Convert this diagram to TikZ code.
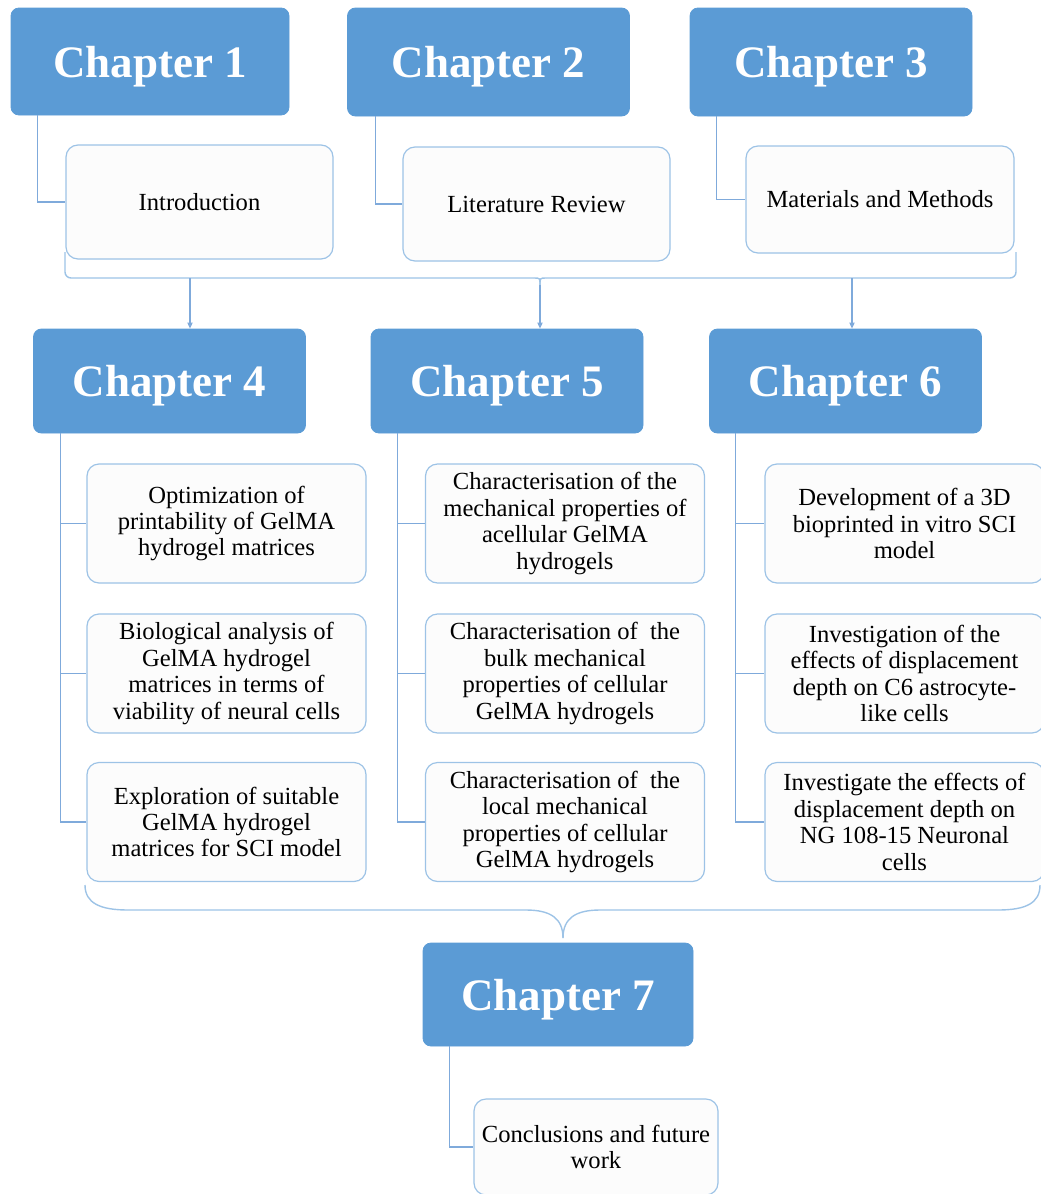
\documentclass[tikz,border=0pt]{standalone}
\usepackage{fontspec}
\setmainfont{Liberation Serif}
\usetikzlibrary{arrows.meta}
\definecolor{chapblue}{HTML}{5B9BD5}
\definecolor{rimblue}{HTML}{9DC3E6}
\definecolor{wireblue}{HTML}{7FAADB}
\definecolor{boxfill}{HTML}{FCFCFC}

\begin{document}
\begin{tikzpicture}[
  x=0.5pt,
  y=-0.5pt,
  chap/.style={rectangle, rounded corners=4pt, fill=chapblue, draw=chapblue,
    text=white, font=\fontsize{22.5}{26}\selectfont\bfseries,
    text depth=1.5pt, text height=17pt,
    minimum width=136pt, minimum height=52pt, inner sep=0pt},
  topic/.style={rectangle, rounded corners=6pt, draw=rimblue, fill=boxfill,
    line width=0.6pt, font=\fontsize{12.3}{13.2}\selectfont, align=center,
    minimum width=139.5pt, minimum height=59.5pt, inner sep=0pt},
  wire/.style={wireblue, line width=0.55pt},
  feed/.style={wireblue, line width=0.55pt, -{Triangle[length=3pt, width=2.6pt]}},
  brace/.style={rimblue, line width=0.7pt}
]
\useasboundingbox (0,0) rectangle (1040,1194);

% =====================================================================
% first row: chapters 1 to 3
% =====================================================================
\node[chap, minimum width=139pt, minimum height=53.5pt] (ch1) at (150,61.5) {Chapter 1};
\node[chap, minimum width=141pt, minimum height=54pt] (ch2) at (488.5,62) {Chapter 2};
\node[chap, minimum width=141pt, minimum height=54pt] (ch3) at (831,62) {Chapter 3};

\node[topic, minimum width=133.5pt, minimum height=57pt] (intro) at (199.5,202) {Introduction};
\node[topic, minimum width=133.5pt, minimum height=57pt] (review) at (536.5,204) {Literature Review};
\node[topic, minimum width=134pt, minimum height=53.5pt] (methods) at (880,199.5) {Materials and Methods};

\draw[wire] ([xshift=13.5pt]ch1.south west) |- (intro.west);
\draw[wire] ([xshift=14pt]ch2.south west) |- (review.west);
\draw[wire] ([xshift=13.5pt]ch3.south west) |- (methods.west);

% brace under the first row
\coordinate (tcusp) at (540,285);
\coordinate (tleft) at (190,278);
\coordinate (tright) at (852,278);
\draw[brace, rounded corners=3pt] (65,252) -- (65,278) -- (534,278);
\draw[brace] (534,278) .. controls (540,278) .. (tcusp);
\draw[brace] (tcusp) .. controls (540,278) .. (546,278);
\draw[brace, rounded corners=3pt] (546,278) -- (1016,278) -- (1016,252);

% =====================================================================
% second row: chapters 4 to 6
% =====================================================================
\node[chap] (ch4) at (169.5,381) {Chapter 4};
\node[chap] (ch5) at (507,381) {Chapter 5};
\node[chap] (ch6) at (845.5,381) {Chapter 6};

\draw[feed] (tleft) -- (tleft |- ch4.north);
\draw[feed] (tcusp) -- (tcusp |- ch5.north);
\draw[feed] (tright) -- (tright |- ch6.north);

\node[topic] (a1) at (226.5,523.5) {Optimization of\\printability of GelMA\\hydrogel matrices};
\node[topic] (a2) at (226.5,673.5) {Biological analysis of\\GelMA hydrogel\\matrices in terms of\\viability of neural cells};
\node[topic] (a3) at (226.5,822) {Exploration of suitable\\GelMA hydrogel\\matrices for SCI model};

\node[topic] (b1) at (565,523.5) {Characterisation of the\\mechanical properties of\\acellular GelMA\\hydrogels};
\node[topic] (b2) at (565,673.5) {Characterisation of~~the\\bulk mechanical\\properties of cellular\\GelMA hydrogels};
\node[topic] (b3) at (565,822) {Characterisation of~~the\\local mechanical\\properties of cellular\\GelMA hydrogels};

\node[topic] (c1) at (904.5,523.5) {Development of a 3D\\bioprinted in vitro SCI\\model};
\node[topic] (c2) at (904.5,673.5) {Investigation of the\\effects of displacement\\depth on C6 astrocyte-\\like cells};
\node[topic] (c3) at (904.5,822) {Investigate the effects of\\displacement depth on\\NG 108-15 Neuronal\\cells};

\foreach \t in {a1,a2,a3}
  \draw[wire] ([xshift=13.5pt]ch4.south west) |- (\t.west);
\foreach \t in {b1,b2,b3}
  \draw[wire] ([xshift=13.5pt]ch5.south west) |- (\t.west);
\foreach \t in {c1,c2,c3}
  \draw[wire] ([xshift=13pt]ch6.south west) |- (\t.west);

% brace under the second row
\coordinate (bcusp) at (563,938);
\draw[brace] (85,885) .. controls (85,903) and (100,910) .. (128,910) -- (526,910)
  .. controls (550,910) and (563,918) .. (bcusp);
\draw[brace] (bcusp) .. controls (563,918) and (576,910) .. (600,910) -- (998,910)
  .. controls (1026,910) and (1040,903) .. (1040,885);

% =====================================================================
% last row: chapter 7
% =====================================================================
\node[chap, minimum width=135pt, minimum height=51.5pt] (ch7) at (558,994.5) {Chapter 7};
\node[topic, minimum width=122pt, minimum height=48pt] (close) at (596,1147) {Conclusions and future\\work};
\draw[wire] ([xshift=13.5pt]ch7.south west) |- (close.west);

\end{tikzpicture}
\end{document}
